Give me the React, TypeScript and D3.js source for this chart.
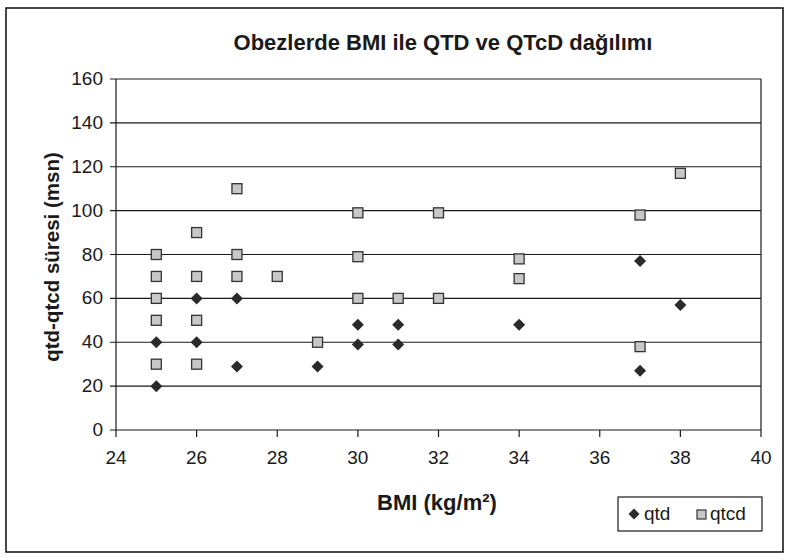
import React from "react";
import { scaleLinear, range } from "d3";

const qtdBmi = [25, 25, 26, 26, 27, 27, 29, 30, 30, 31, 31, 34, 37, 37, 38];
const qtdVal = [20, 40, 40, 60, 60, 29, 29, 39, 48, 39, 48, 48, 27, 77, 57];

const qtcdBmi = [25, 25, 25, 25, 25, 26, 26, 26, 26, 27, 27, 27, 28, 29, 30, 30, 30, 31, 32, 32, 34, 34, 37, 37, 38];
const qtcdVal = [30, 50, 60, 70, 80, 30, 50, 70, 90, 70, 80, 110, 70, 40, 60, 79, 99, 60, 60, 99, 69, 78, 38, 98, 117];

const xTicks = range(24, 41, 2);
const yTicks = range(0, 161, 20);

const W = 788;
const H = 560;
const font = "'Liberation Sans', Arial, sans-serif";

const App = () => {
  const x = scaleLinear().domain([24, 40]).range([116, 761]);
  const y = scaleLinear().domain([0, 160]).range([430, 79]);
  const ink = "#1a1a1a";

  return (
    <svg width={W} height={H} style={{ position: "absolute", left: 0, top: 0 }} fontFamily={font}>
      <rect x={0} y={0} width={W} height={H} fill="#fff" />
      <rect x={6} y={8} width={777} height={544} fill="none" stroke={ink} strokeWidth={1.6} />
      <text x={443} y={50} textAnchor="middle" fontSize={22} fontWeight="bold" fill={ink}>
        Obezlerde BMI ile QTD ve QTcD dağılımı
      </text>

      {yTicks.map((t) => (
        <g key={"y" + t}>
          <line x1={x(24) - 6} x2={x(40)} y1={y(t)} y2={y(t)} stroke={ink} strokeWidth={1.2} />
          <text x={103} y={y(t) + 6} textAnchor="end" fontSize={19} fill={ink}>{t}</text>
        </g>
      ))}
      <line x1={x(24)} x2={x(24)} y1={y(160)} y2={y(0)} stroke={ink} strokeWidth={1.2} />
      <line x1={x(40)} x2={x(40)} y1={y(160)} y2={y(0)} stroke={ink} strokeWidth={1.2} />
      {xTicks.map((t) => (
        <g key={"x" + t}>
          <line x1={x(t)} x2={x(t)} y1={y(0)} y2={y(0) + 7} stroke={ink} strokeWidth={1.2} />
          <text x={x(t)} y={y(0) + 34} textAnchor="middle" fontSize={19} fill={ink}>{t}</text>
        </g>
      ))}

      {qtcdBmi.map((b, i) => (
        <rect key={"s" + i} x={x(b) - 5} y={y(qtcdVal[i]) - 5} width={10} height={10}
          fill="#c8c8c8" stroke="#333" strokeWidth={1.3} />
      ))}
      {qtdBmi.map((b, i) => (
        <path key={"d" + i} d="M0,-6L6,0L0,6L-6,0Z"
          transform={`translate(${x(b)},${y(qtdVal[i])})`} fill="#2a2a2a" />
      ))}

      <text transform="translate(59,257) rotate(-90)" textAnchor="middle" fontSize={20.5}
        fontWeight="bold" fill={ink}>qtd-qtcd süresi (msn)</text>
      <text x={437} y={510} textAnchor="middle" fontSize={22} fontWeight="bold" fill={ink}>
        BMI (kg/m²)
      </text>

      <rect x={618} y={497} width={144} height={34} fill="#fff" stroke={ink} strokeWidth={1.2} />
      <path d="M0,-5.5L5.5,0L0,5.5L-5.5,0Z" transform="translate(634,514)" fill="#2a2a2a" />
      <text x={644} y={520} fontSize={19} fill={ink}>qtd</text>
      <rect x={697} y={510} width={9} height={9} fill="#c8c8c8" stroke="#333" strokeWidth={1.2} />
      <text x={710} y={520} fontSize={19} fill={ink}>qtcd</text>
    </svg>
  );
};

export default App;
